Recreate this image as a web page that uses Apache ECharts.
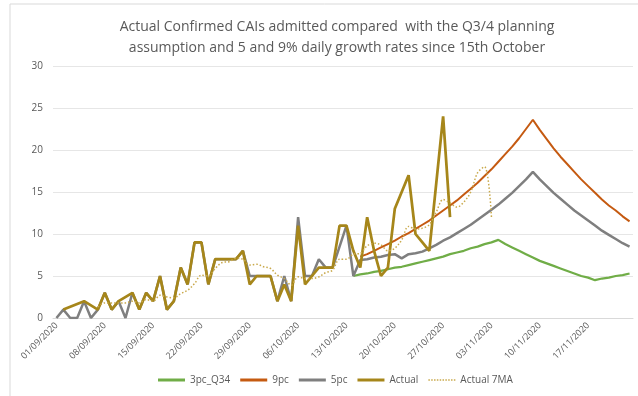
<!DOCTYPE html>
<html>
<head>
<meta charset="utf-8">
<script src="https://cdn.jsdelivr.net/npm/echarts@6/dist/echarts.min.js"></script>
<style>
  html, body { margin: 0; padding: 0; background: #ffffff; }
  #chart { width: 638px; height: 396px; }
</style>
</head>
<body>
<div id="chart"></div>
<script>
// Daily categories, 01/09/2020 to 23/11/2020
const dates = [
  '01/09/2020','02/09/2020','03/09/2020','04/09/2020','05/09/2020','06/09/2020','07/09/2020',
  '08/09/2020','09/09/2020','10/09/2020','11/09/2020','12/09/2020','13/09/2020','14/09/2020',
  '15/09/2020','16/09/2020','17/09/2020','18/09/2020','19/09/2020','20/09/2020','21/09/2020',
  '22/09/2020','23/09/2020','24/09/2020','25/09/2020','26/09/2020','27/09/2020','28/09/2020',
  '29/09/2020','30/09/2020','01/10/2020','02/10/2020','03/10/2020','04/10/2020','05/10/2020',
  '06/10/2020','07/10/2020','08/10/2020','09/10/2020','10/10/2020','11/10/2020','12/10/2020',
  '13/10/2020','14/10/2020','15/10/2020','16/10/2020','17/10/2020','18/10/2020','19/10/2020',
  '20/10/2020','21/10/2020','22/10/2020','23/10/2020','24/10/2020','25/10/2020','26/10/2020',
  '27/10/2020','28/10/2020','29/10/2020','30/10/2020','31/10/2020','01/11/2020','02/11/2020',
  '03/11/2020','04/11/2020','05/11/2020','06/11/2020','07/11/2020','08/11/2020','09/11/2020',
  '10/11/2020','11/11/2020','12/11/2020','13/11/2020','14/11/2020','15/11/2020','16/11/2020',
  '17/11/2020','18/11/2020','19/11/2020','20/11/2020','21/11/2020','22/11/2020','23/11/2020'
];

const _ = null;

// 3% growth planning assumption (Q3/4)
const pc3Q34 = [
  _,_,_,_,_,_,_,_,_,_, _,_,_,_,_,_,_,_,_,_, _,_,_,_,_,_,_,_,_,_, _,_,_,_,_,_,_,_,_,_, _,_,_,
  5.0,5.2,5.3,5.5,5.6,5.8,6.0,6.1,6.3,6.5,6.7,6.9,7.1,7.3,7.6,7.8,8.0,8.3,8.5,8.8,9.0,9.3,
  8.8,8.4,8.0,7.6,7.2,6.8,6.5,6.2,5.9,5.6,5.3,5.0,4.8,4.5,
  4.7,4.8,5.0,5.1,5.3
];

// 9% scenario
const pc9 = [
  _,_,_,_,_,_,_,_,_,_, _,_,_,_,_,_,_,_,_,_, _,_,_,_,_,_,_,_,_,_, _,_,_,_,_,_,_,_,_,_, _,_,_,_,
  7.3,7.6,8.0,8.4,8.8,9.2,9.7,10.1,10.6,11.1,11.6,12.2,12.8,13.4,14.0,14.7,15.4,16.1,16.9,17.7,
  18.6,19.5,20.4,21.4,22.5,23.6,
  22.4,21.3,20.2,19.2,18.3,17.4,16.5,15.7,14.9,14.1,13.4,12.8,12.1,11.5
];

// 5% scenario
const pc5 = [
  0,1,0,0,2,0,1,3,1,2, 0,3,1,3,2,5,1,2,6,4, 9,9,4,7,7,7,7,8,5,5, 5,5,2,5,2,12,5,5,7,6, 6,8.5,11,
  5,6.9,7.0,7.2,7.3,7.5,7.6,7.1,7.6,7.7,7.9,8.3,
  8.7,9.2,9.6,10.1,10.6,11.1,11.7,12.3,12.9,13.5,14.2,14.9,15.7,16.5,17.4,
  16.5,15.7,14.9,14.2,13.5,12.8,12.2,11.6,11.0,10.4,9.9,9.4,8.9,8.5
];

// Actual confirmed admissions (empty days are bridged)
const actual = [
  _,1,_,_,2,_,1,3,1,2, _,3,1,3,2,5,1,2,6,4, 9,9,4,7,7,7,7,8,4,5, 5,5,2,4,2,11,4,5,6,6,
  6,11,11,8,6,12,8,5,6,13, 15,17,10,9,8,16,24,12,
  _,_,_,_,_,_,_,_,_,_, _,_,_,_,_,_,_,_,_,_, _,_,_,_,_,_
];

// Actual, 7-day moving average
const actual7MA = [
  _,_,_,_,_,_,1.3,1.8,1.8,1.8, 1.8,2.0,1.8,2.2,2.0,2.7,2.5,2.4,2.9,3.3,
  4.1,5.1,5.0,5.9,6.6,6.7,7.1,7.0,6.3,6.4, 6.1,5.9,5.1,4.7,3.9,4.9,4.7,4.7,4.9,5.4,
  5.7,7.0,7.0,7.6,7.7,8.6,8.9,8.7,8.0,8.3, 9.3,10.9,10.6,10.7,11.1,12.6,14.1,13.7,13.2,13.8,
  15.0,17.3,18.0,12.0,
  _,_,_,_,_,_,_,_,_,_, _,_,_,_,_,_,_,_,_,_
];

const yTicks = { min: 0, max: 30, step: 5 };

const titleLines = [
  'Actual Confirmed CAIs admitted compared  with the Q3/4 planning',
  'assumption and 5 and 9% daily growth rates since 15th October'
];

const FONT = "'Open Sans', 'Liberation Sans', sans-serif";
const TEXT = '#595959';

const COLORS = {
  pc3: '#70AD47',
  pc9: '#C55A11',
  pc5: '#7F7F7F',
  actual: '#A6861A',
  ma: '#C9A94B'
};

// legend glyph for the dotted series: a row of small dots
const dottedIcon = 'path://' + [0, 3, 6, 9, 12, 15, 18, 21, 24, 27]
  .map(function (x) { return 'M' + x + ',0h1.6v1.6h-1.6z'; }).join(' ');

const chart = echarts.init(document.getElementById('chart'), null, { renderer: 'canvas' });

chart.setOption({
  animation: false,
  backgroundColor: '#ffffff',
  graphic: [{
    type: 'rect',
    shape: { x: 10, y: 4, width: 640, height: 400 },
    style: { fill: 'none', stroke: '#d9d9d9', lineWidth: 1 },
    silent: true,
    z: -1
  }],
  title: {
    text: titleLines.join('\n'),
    left: 332,
    top: 12,
    textAlign: 'center',
    textStyle: {
      fontFamily: FONT,
      fontSize: 14,
      fontWeight: 'normal',
      color: TEXT,
      lineHeight: 21
    }
  },
  grid: { left: 53, right: 5, top: 66, bottom: 78, containLabel: false },
  legend: {
    bottom: 6,
    left: 153,
    itemWidth: 27,
    itemHeight: 3,
    itemGap: 10,
    textStyle: { fontFamily: FONT, fontSize: 10, color: TEXT },
    data: [
      { name: '3pc_Q34', icon: 'rect' },
      { name: '9pc', icon: 'rect' },
      { name: '5pc', icon: 'rect' },
      { name: 'Actual', icon: 'rect' },
      { name: 'Actual 7MA', icon: dottedIcon }
    ]
  },
  xAxis: {
    type: 'category',
    data: dates,
    boundaryGap: true,
    axisLine: { lineStyle: { color: '#d9d9d9' } },
    axisTick: { show: false },
    axisLabel: {
      interval: 6,
      rotate: 45,
      fontFamily: FONT,
      fontSize: 9,
      color: TEXT,
      margin: 6
    },
    splitLine: { show: false }
  },
  yAxis: {
    type: 'value',
    min: yTicks.min,
    max: yTicks.max,
    interval: yTicks.step,
    axisLine: { show: false },
    axisTick: { show: false },
    axisLabel: { fontFamily: FONT, fontSize: 10, color: TEXT, margin: 10 },
    splitLine: { lineStyle: { color: '#e6e6e6' } }
  },
  series: [
    {
      name: '3pc_Q34', type: 'line', data: pc3Q34, symbol: 'none',
      lineStyle: { color: COLORS.pc3, width: 2.25 }, itemStyle: { color: COLORS.pc3 }
    },
    {
      name: '9pc', type: 'line', data: pc9, symbol: 'none',
      lineStyle: { color: COLORS.pc9, width: 2 }, itemStyle: { color: COLORS.pc9 }
    },
    {
      name: '5pc', type: 'line', data: pc5, symbol: 'none',
      lineStyle: { color: COLORS.pc5, width: 2.5 }, itemStyle: { color: COLORS.pc5 }
    },
    {
      name: 'Actual', type: 'line', data: actual, symbol: 'none', connectNulls: true,
      lineStyle: { color: COLORS.actual, width: 2.75 }, itemStyle: { color: COLORS.actual }
    },
    {
      name: 'Actual 7MA', type: 'line', data: actual7MA, symbol: 'none', smooth: 0.35,
      lineStyle: { color: COLORS.ma, width: 1.5, type: [1.5, 2] }, itemStyle: { color: COLORS.ma }
    }
  ]
});
</script>
</body>
</html>
